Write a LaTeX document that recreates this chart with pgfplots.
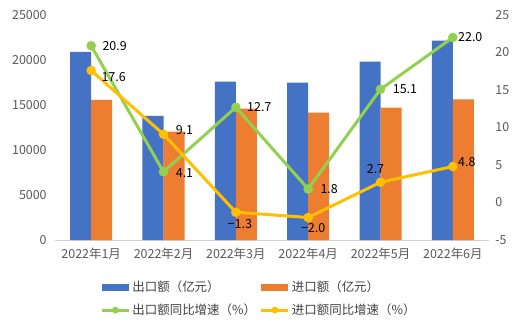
\documentclass[border=0pt]{standalone}
\usepackage{fontspec}
\setmainfont{Noto Sans CJK SC}
\usepackage{pgfplots}
\pgfplotsset{compat=1.18}
\definecolor{cblue}{HTML}{4472C4}
\definecolor{corange}{HTML}{ED7D31}
\definecolor{cgreen}{HTML}{92D050}
\definecolor{cyellow}{HTML}{FFC000}
\definecolor{ctext}{HTML}{595959}
\definecolor{clabel}{HTML}{404040}
\begin{document}
\fontsize{12.5}{15}\selectfont
\begin{tikzpicture}
\path (-55bp,-85bp) rectangle (469bp,240bp);
\pgfplotsset{
  common/.style={
    width=434bp, height=225bp, scale only axis,
    xmin=-0.5, xmax=5.5,
    major tick length=0pt,
    scaled ticks=false,
    tick label style={font=\fontsize{12.5}{15}\selectfont, color=ctext},
    /pgf/number format/assume math mode=true,
    /pgf/number format/1000 sep={},
  }
}
\begin{axis}[common,
  at={(0,0)}, anchor=south west,
  ybar=0pt, bar width=21bp,
  ymin=0, ymax=25000, ytick={0,5000,...,25000},
  axis x line*=bottom, axis y line*=left,
  y axis line style={draw=none},
  x axis line style={draw=black!18, line width=1bp},
  xtick={0,...,5},
  xticklabels={2022年1月,2022年2月,2022年3月,2022年4月,2022年5月,2022年6月},
  yticklabel style={xshift=-4bp},
  xticklabel style={yshift=-4bp},
  legend columns=2,
  legend cell align=left,
  legend style={at={(0.47,-0.165)}, anchor=north, draw=none, fill=none,
    font=\fontsize{12.5}{15}\selectfont, text=clabel,
    /tikz/every even column/.append style={column sep=2bp},
    row sep=6bp},
]
\addplot[fill=cblue, draw=none,
  legend image code/.code={\fill[cblue] (0bp,-3.5bp) rectangle (27bp,3.5bp);}]
  coordinates {(0,20890) (1,13780) (2,17590) (3,17480) (4,19810) (5,22150)};
\addlegendentry{出口额（亿元）}
\addplot[fill=corange, draw=none,
  legend image code/.code={\fill[corange] (0bp,-3.5bp) rectangle (27bp,3.5bp);}]
  coordinates {(0,15560) (1,12040) (2,14590) (3,14150) (4,14700) (5,15630)};
\addlegendentry{进口额（亿元）}
\addlegendimage{legend image code/.code={\draw[cgreen, line width=3bp] (0bp,0bp) -- (27bp,0bp); \fill[cgreen] (13.5bp,0bp) circle (3.2bp);}}
\addlegendentry{出口额同比增速（\%）}
\addlegendimage{legend image code/.code={\draw[cyellow, line width=3bp] (0bp,0bp) -- (27bp,0bp); \fill[cyellow] (13.5bp,0bp) circle (3.2bp);}}
\addlegendentry{进口额同比增速（\%）}
\end{axis}
\begin{axis}[common,
  at={(0,0)}, anchor=south west,
  ymin=-5, ymax=25, ytick={-5,0,...,25},
  axis y line*=right, axis x line=none,
  y axis line style={draw=none},
  yticklabel style={xshift=2bp},
  every node/.style={font=\fontsize{12.5}{15}\selectfont, text=clabel},
]
\addplot[cgreen, line width=3bp, mark=*, mark size=3.2bp, mark options={fill=cgreen, draw=cgreen}]
  coordinates {(0,20.9) (1,4.1) (2,12.7) (3,1.8) (4,15.1) (5,22.0)};
\addplot[cyellow, line width=3bp, mark=*, mark size=3.2bp, mark options={fill=cyellow, draw=cyellow}]
  coordinates {(0,17.6) (1,9.1) (2,-1.3) (3,-2.0) (4,2.7) (5,4.8)};
\node[anchor=west, xshift=7bp] at (axis cs:0,20.9) {20.9};
\node[anchor=west, xshift=6bp, yshift=-7bp] at (axis cs:0,17.6) {17.6};
\node[anchor=west, xshift=8bp, yshift=-1bp] at (axis cs:1,4.1) {4.1};
\node[anchor=west, xshift=8bp, yshift=4bp] at (axis cs:1,9.1) {9.1};
\node[anchor=west, xshift=7bp] at (axis cs:2,12.7) {12.7};
\node[anchor=north, xshift=4bp, yshift=-3bp] at (axis cs:2,-1.3) {−1.3};
\node[anchor=west, xshift=8bp] at (axis cs:3,1.8) {1.8};
\node[anchor=north, xshift=5bp, yshift=-2bp] at (axis cs:3,-2.0) {−2.0};
\node[anchor=west, xshift=8bp] at (axis cs:4,15.1) {15.1};
\node[anchor=south, xshift=-5bp, yshift=4bp] at (axis cs:4,2.7) {2.7};
\node[anchor=west, xshift=1bp] at (axis cs:5,22.0) {22.0};
\node[anchor=west, xshift=1bp, yshift=4bp] at (axis cs:5,4.8) {4.8};
\end{axis}
\end{tikzpicture}
\end{document}
